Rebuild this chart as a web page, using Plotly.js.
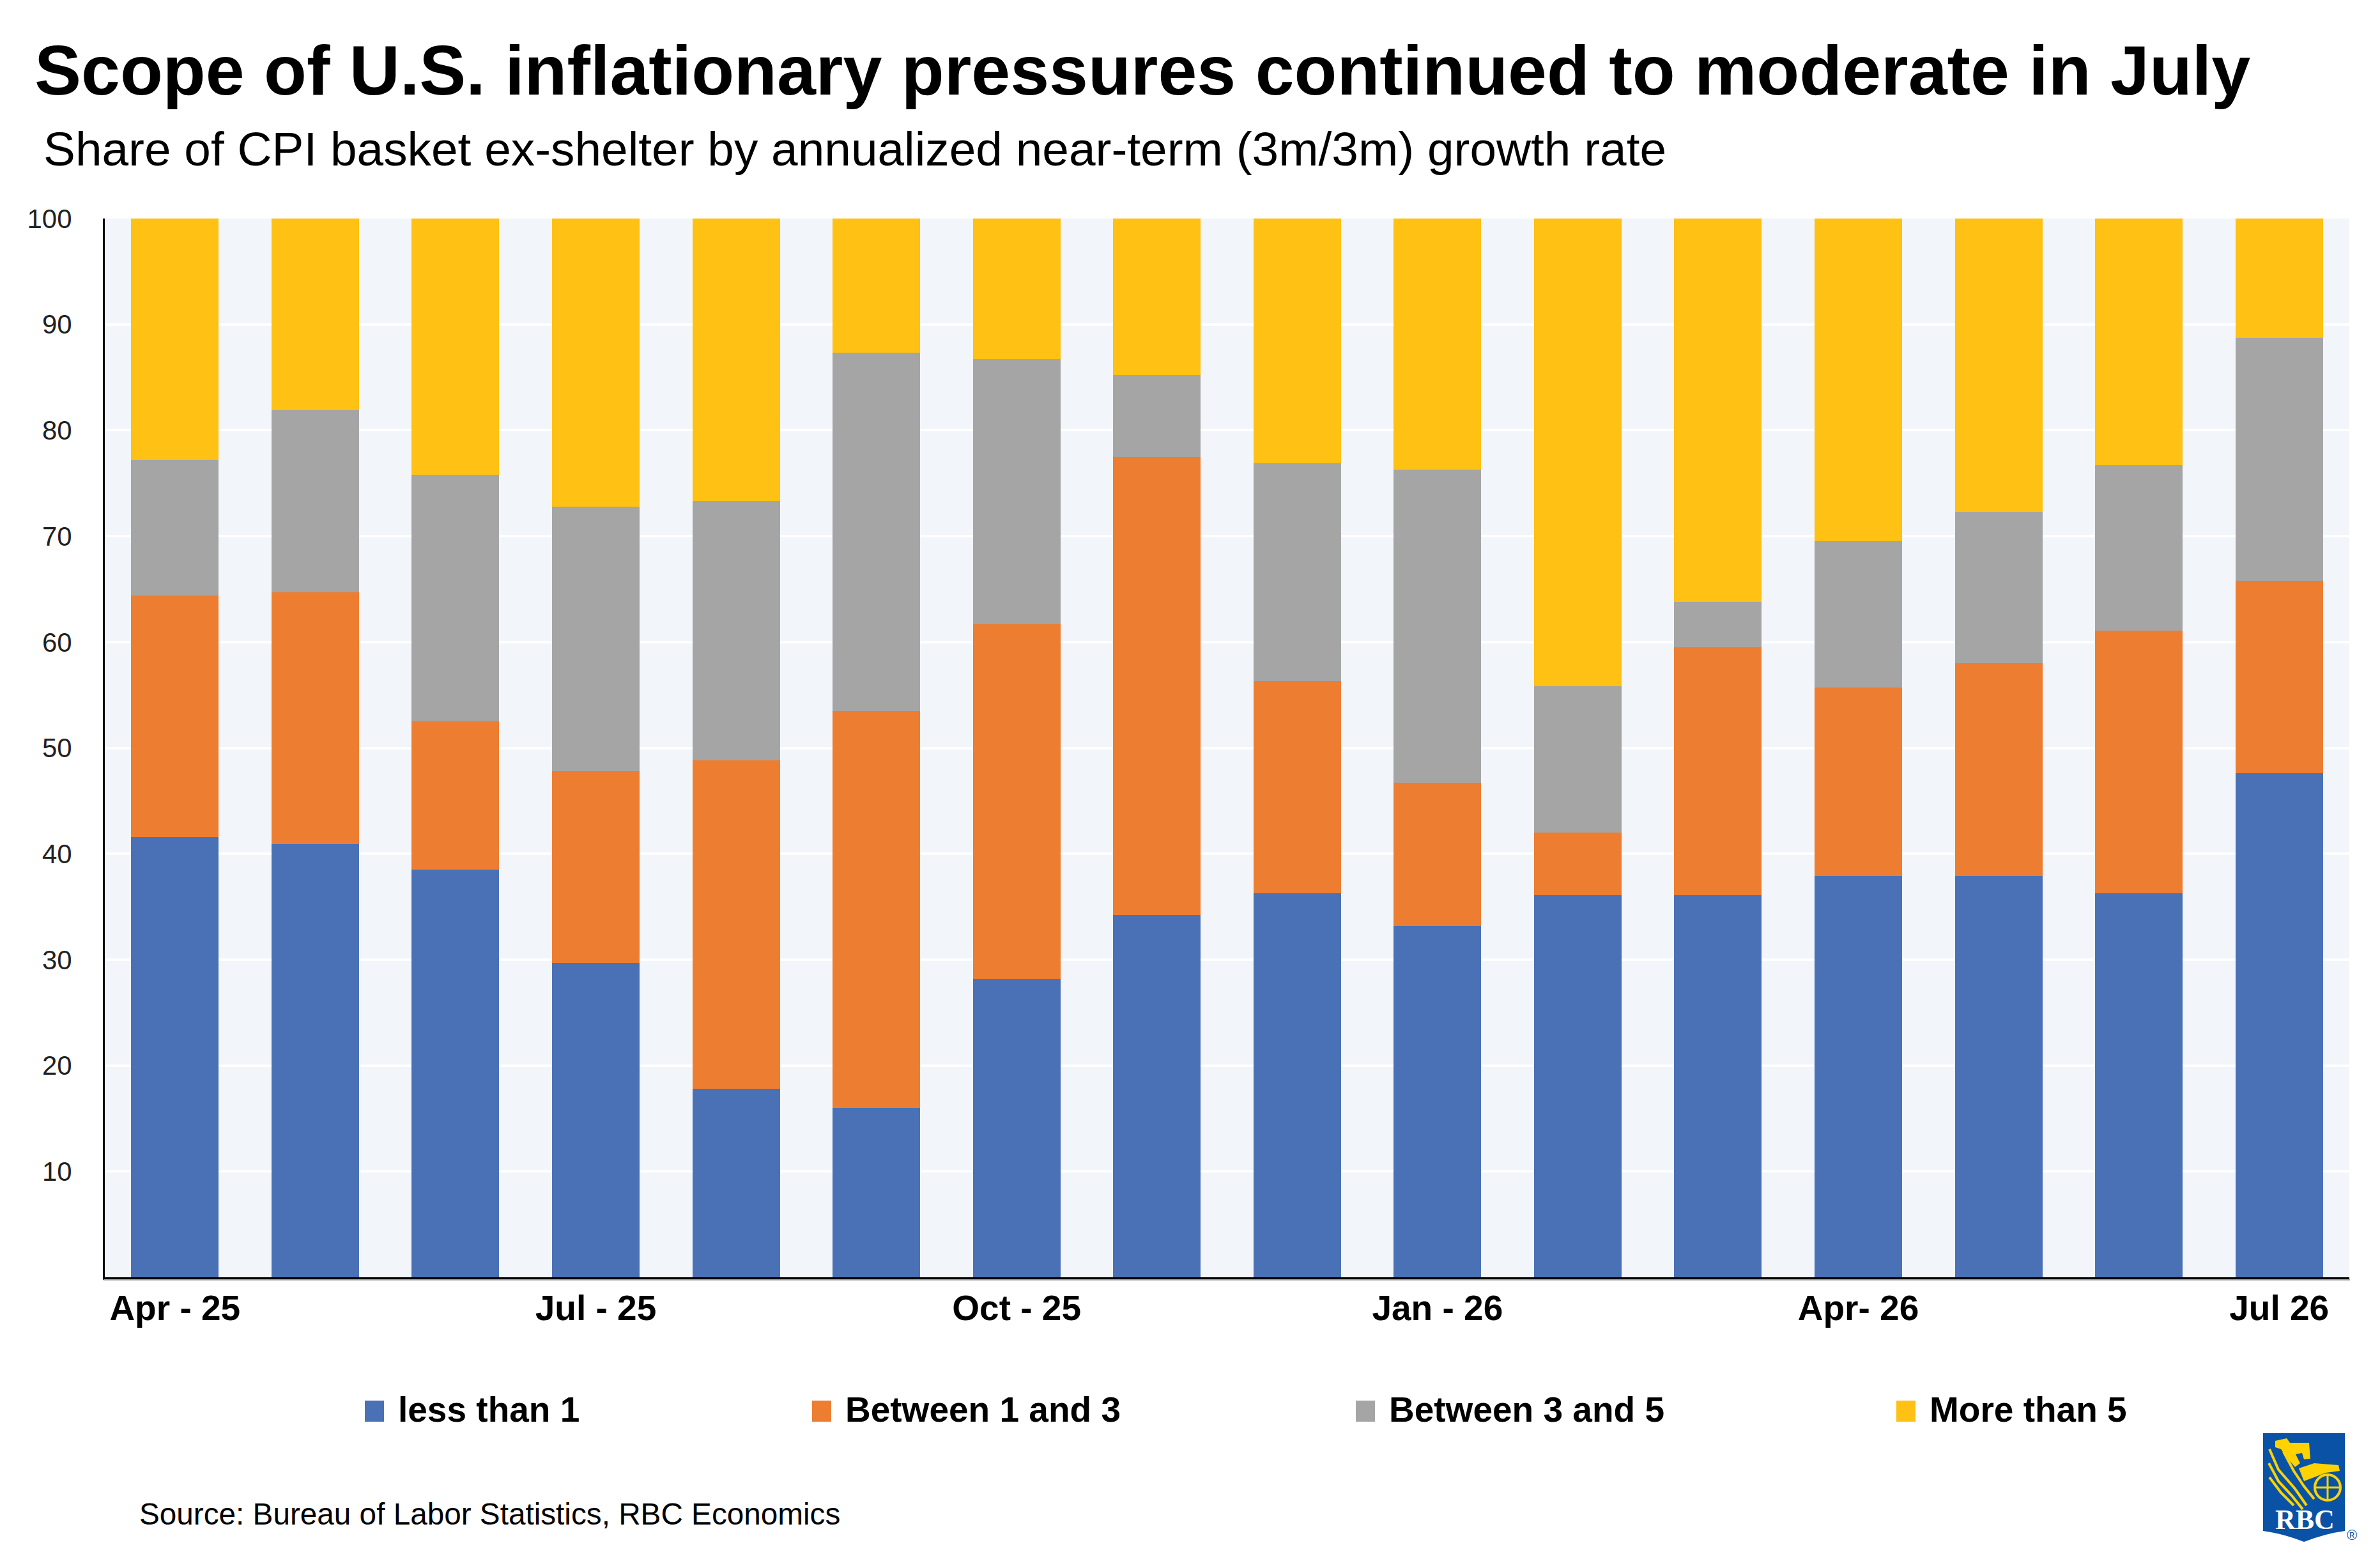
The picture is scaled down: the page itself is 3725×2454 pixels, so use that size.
<!DOCTYPE html>
<html>
<head>
<meta charset="utf-8">
<script src="https://cdn.plot.ly/plotly-3.0.1.min.js"></script>
<style>
  html, body { margin: 0; padding: 0; background: #ffffff; }
  #chart { width: 3725px; height: 2454px; }
</style>
</head>
<body>
<div id="chart"></div>
<script>
// ---------------- DATA ----------------
const categories = ["Apr-25","May-25","Jun-25","Jul-25","Aug-25","Sep-25","Oct-25","Nov-25",
                    "Dec-25","Jan-26","Feb-26","Mar-26","Apr-26","May-26","Jun-26","Jul-26"];
const tickCategories = ["Apr-25","Jul-25","Oct-25","Jan-26","Apr-26","Jul-26"];
const tickLabels = ["Apr - 25","Jul - 25","Oct - 25","Jan - 26","Apr- 26","Jul 26"];

const seriesNames = ["less than 1","Between 1 and 3","Between 3 and 5","More than 5"];
const seriesColors = ["#4A71B6","#ED7D31","#A5A5A5","#FFC113"];

const lessThan1     = [41.6, 40.9, 38.5, 29.7, 17.8, 16.0, 28.2, 34.2, 36.3, 33.2, 36.1, 36.1, 37.9, 37.9, 36.3, 47.6];
const between1and3  = [22.8, 23.8, 14.0, 18.1, 31.0, 37.5, 33.5, 43.3, 20.0, 13.5,  5.9, 23.4, 17.8, 20.1, 24.8, 18.2];
const between3and5  = [12.8, 17.2, 23.3, 25.0, 24.5, 33.8, 25.0,  7.7, 20.6, 29.6, 13.8,  4.3, 13.8, 14.3, 15.6, 22.9];
const moreThan5     = [22.8, 18.1, 24.2, 27.2, 26.7, 12.7, 13.3, 14.8, 23.1, 23.7, 44.2, 36.2, 30.5, 27.7, 23.3, 11.4];

const titleText = "Scope of U.S. inflationary pressures continued to moderate in July";
const subtitleText = "Share of CPI basket ex-shelter by annualized near-term (3m/3m) growth rate";
const sourceText = "Source: Bureau of Labor Statistics, RBC Economics";
const yTicks = [10,20,30,40,50,60,70,80,90,100];

// ---------------- LAYOUT HELPERS ----------------
const W = 3725, H = 2454;
const M = { l: 164, r: 48, t: 342, b: 455 };
const PW = W - M.l - M.r, PH = H - M.t - M.b;
const X = px => (px - M.l) / PW;            // pixel -> paper x
const Y = py => (H - M.b - py) / PH;        // pixel -> paper y
const FONT = '"Liberation Sans", Arial, Helvetica, sans-serif';

const seriesValues = [lessThan1, between1and3, between3and5, moreThan5];
const traces = seriesNames.map((name, i) => ({
  type: 'bar',
  name: name,
  x: categories,
  y: seriesValues[i],
  marker: { color: seriesColors[i], line: { width: 0 } },
  showlegend: false,
  hoverinfo: 'x+y+name'
}));

// custom legend (large square swatches like the original)
const legendSquareX = [571, 1271, 2122, 2968];
const shapes = [];
const annotations = [];
seriesNames.forEach((name, i) => {
  const x0 = legendSquareX[i];
  shapes.push({
    type: 'rect', xref: 'paper', yref: 'paper',
    x0: X(x0), x1: X(x0 + 30), y0: Y(2225), y1: Y(2192),
    fillcolor: seriesColors[i], line: { width: 0 }
  });
  annotations.push({
    xref: 'paper', yref: 'paper', x: X(x0 + 50), y: Y(2206),
    xanchor: 'left', yanchor: 'middle', showarrow: false,
    text: name, font: { family: FONT, size: 55, color: '#000000', weight: 'bold' }
  });
});

// title, subtitle, source
annotations.push({
  xref: 'paper', yref: 'paper', x: X(52), y: Y(110),
  xanchor: 'left', yanchor: 'middle', showarrow: false,
  text: titleText, font: { family: FONT, size: 109.5, color: '#000000', weight: 'bold' }
});
annotations.push({
  xref: 'paper', yref: 'paper', x: X(66), y: Y(233),
  xanchor: 'left', yanchor: 'middle', showarrow: false,
  text: subtitleText, font: { family: FONT, size: 74.8, color: '#000000' }
});
annotations.push({
  xref: 'paper', yref: 'paper', x: X(216), y: Y(2369),
  xanchor: 'left', yanchor: 'middle', showarrow: false,
  text: sourceText, font: { family: FONT, size: 47.7, color: '#000000' }
});

// thin grey shadow under x axis
shapes.push({
  type: 'line', xref: 'paper', yref: 'paper',
  x0: X(162), x1: X(3678), y0: Y(2003), y1: Y(2003),
  line: { color: '#9a9a9a', width: 2 }
});

// ---- RBC logo (shield) ----
const shieldPath = 'M ' + X(3542) + ',' + Y(2243) +
  ' L ' + X(3670) + ',' + Y(2243) +
  ' L ' + X(3670) + ',' + Y(2396) +
  ' Q ' + X(3640) + ',' + Y(2400) + ' ' + X(3606) + ',' + Y(2413) +
  ' Q ' + X(3572) + ',' + Y(2400) + ' ' + X(3542) + ',' + Y(2396) + ' Z';
shapes.push({ type: 'path', xref: 'paper', yref: 'paper', path: shieldPath,
  fillcolor: '#0A52A6', line: { width: 0 } });

const gold = '#FFD200';
function poly(pts, closed) {
  let s = 'M ' + X(pts[0][0]) + ',' + Y(pts[0][1]);
  for (let k = 1; k < pts.length; k++) s += ' L ' + X(pts[k][0]) + ',' + Y(pts[k][1]);
  return s + (closed ? ' Z' : '');
}
// lion head
shapes.push({ type: 'path', xref: 'paper', yref: 'paper',
  path: poly([[3561,2255],[3579,2251],[3584,2258],[3614,2258],[3616,2283],[3606,2284],[3603,2274],[3593,2276],[3600,2290],[3592,2296],[3580,2282],[3570,2268],[3561,2265]], true),
  fillcolor: gold, line: { width: 0 } });
// lion paw/arm over globe
shapes.push({ type: 'path', xref: 'paper', yref: 'paper',
  path: poly([[3598,2298],[3622,2290],[3660,2293],[3662,2302],[3640,2305],[3622,2312],[3606,2318]], true),
  fillcolor: gold, line: { width: 0 } });
// mane strokes
[[[3552,2268],[3566,2300],[3592,2330],[3610,2356]],
 [[3551,2290],[3566,2318],[3588,2342],[3604,2362]],
 [[3552,2312],[3570,2336],[3590,2356]],
 [[3574,2272],[3590,2302],[3606,2326],[3622,2346]]].forEach(p => {
  shapes.push({ type: 'path', xref: 'paper', yref: 'paper', path: poly(p, false),
    line: { color: gold, width: 4 } });
});
// globe
shapes.push({ type: 'circle', xref: 'paper', yref: 'paper',
  x0: X(3623), x1: X(3663), y0: Y(2348), y1: Y(2308),
  line: { color: gold, width: 4 } });
shapes.push({ type: 'line', xref: 'paper', yref: 'paper',
  x0: X(3643), x1: X(3643), y0: Y(2346), y1: Y(2310), line: { color: gold, width: 3 } });
shapes.push({ type: 'line', xref: 'paper', yref: 'paper',
  x0: X(3625), x1: X(3661), y0: Y(2328), y1: Y(2328), line: { color: gold, width: 3 } });

annotations.push({
  xref: 'paper', yref: 'paper', x: X(3607), y: Y(2378),
  xanchor: 'center', yanchor: 'middle', showarrow: false,
  text: 'RBC', font: { family: '"Liberation Serif", "DejaVu Serif", serif', size: 44, color: '#ffffff', weight: 'bold' }
});
annotations.push({
  xref: 'paper', yref: 'paper', x: X(3681), y: Y(2402),
  xanchor: 'center', yanchor: 'middle', showarrow: false,
  text: '®', font: { family: FONT, size: 22, color: '#0A52A6' }
});

const layout = {
  width: W, height: H,
  margin: M,
  paper_bgcolor: '#ffffff',
  plot_bgcolor: '#F2F5FA',
  barmode: 'stack',
  bargap: 0.376,
  showlegend: false,
  font: { family: FONT, color: '#000000' },
  xaxis: {
    type: 'category',
    categoryorder: 'array', categoryarray: categories,
    tickmode: 'array', tickvals: tickCategories, ticktext: tickLabels,
    tickfont: { family: FONT, size: 55, color: '#000000', weight: 'bold' },
    showline: true, linecolor: '#000000', linewidth: 4,
    showgrid: false, zeroline: false, ticks: '',
    ticklabelstandoff: -3,
    fixedrange: true
  },
  yaxis: {
    range: [0, 100],
    tickmode: 'array', tickvals: yTicks,
    tickfont: { family: FONT, size: 42, color: '#222222' },
    showline: true, linecolor: '#000000', linewidth: 3,
    showgrid: true, gridcolor: '#ffffff', gridwidth: 4,
    zeroline: false, ticks: '',
    ticklabelstandoff: 40,
    fixedrange: true
  },
  shapes: shapes,
  annotations: annotations
};

Plotly.newPlot('chart', traces, layout, { displayModeBar: false, staticPlot: true });
</script>
</body>
</html>
